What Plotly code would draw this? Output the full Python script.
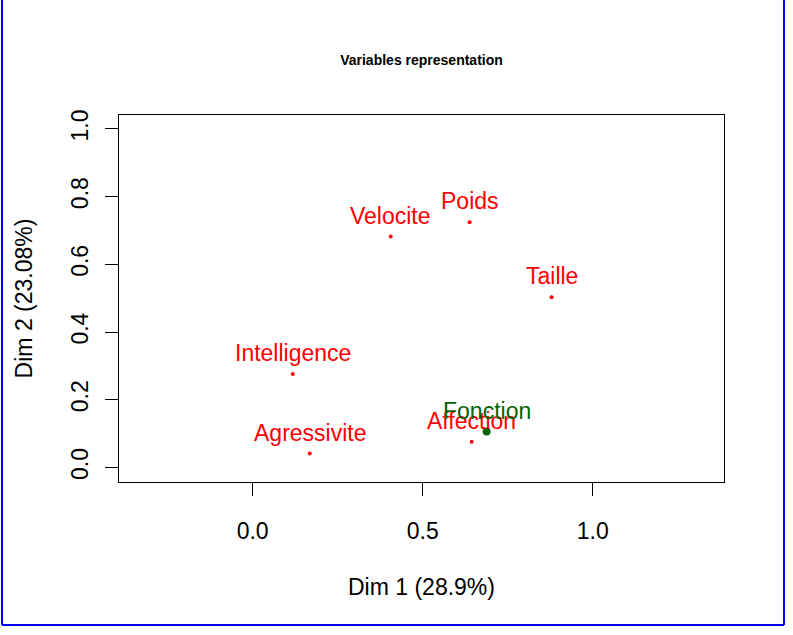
import plotly.graph_objects as go

# Data
active_names = ["Velocite", "Poids", "Taille", "Intelligence", "Agressivite", "Affection"]
active_dim1 = [0.406, 0.638, 0.879, 0.118, 0.168, 0.644]
active_dim2 = [0.682, 0.724, 0.503, 0.276, 0.041, 0.076]

sup_names = ["Fonction"]
sup_dim1 = [0.688]
sup_dim2 = [0.106]

x_ticks = [0.0, 0.5, 1.0]
x_ticklabels = ["0.0", "0.5", "1.0"]
y_ticks = [0.0, 0.2, 0.4, 0.6, 0.8, 1.0]
y_ticklabels = ["0.0", "0.2", "0.4", "0.6", "0.8", "1.0"]

FONT = "Liberation Sans, Arial, sans-serif"
RED = "#FF0000"
GREEN = "#006400"
FS = 23

fig = go.Figure()
fig.add_trace(go.Scatter(
    x=active_dim1, y=active_dim2, mode="markers",
    marker=dict(color=RED, size=4), showlegend=False, hoverinfo="skip"))
fig.add_trace(go.Scatter(
    x=sup_dim1, y=sup_dim2, mode="markers",
    marker=dict(color=GREEN, size=8), showlegend=False, hoverinfo="skip"))

annotations = []
for names, xs, ys, col in [(active_names, active_dim1, active_dim2, RED),
                           (sup_names, sup_dim1, sup_dim2, GREEN)]:
    for n, xv, yv in zip(names, xs, ys):
        annotations.append(dict(x=xv, y=yv, xref="x", yref="y", text=n, showarrow=False,
                                xanchor="center", yanchor="middle", yshift=21,
                                font=dict(family=FONT, size=FS, color=col)))

L, R, T, B = 119, 69, 115, 153
W, H = 793, 635
pw, ph = W - L - R, H - T - B

def px2paper_x(px):
    return (px - L) / pw

def px2paper_y(py):
    return (H - B - py) / ph

axis_common = dict(
    showline=True, mirror=True, linecolor="black", linewidth=1,
    ticks="outside", ticklen=13, tickcolor="black", tickwidth=1,
    showgrid=False, zeroline=False,
    tickfont=dict(family=FONT, size=FS, color="black"),
)

fig.update_layout(
    width=W, height=H, autosize=False,
    margin=dict(l=L, r=R, t=T, b=B),
    paper_bgcolor="white", plot_bgcolor="white",
    font=dict(family=FONT, color="black"),
    title=dict(text="<b>Variables representation</b>", x=(L + pw / 2) / W, xanchor="center",
               y=1 - 60 / H, yanchor="middle",
               font=dict(family=FONT, size=14, color="black")),
    xaxis=dict(range=[-0.393, 1.386], tickvals=x_ticks, ticktext=x_ticklabels,
               title=dict(text="Dim 1 (28.9%)", font=dict(family=FONT, size=FS), standoff=36),
               ticklabelstandoff=15, **axis_common),
    yaxis=dict(range=[-0.043, 1.041], tickvals=y_ticks, ticktext=y_ticklabels, tickangle=-90,
               title=dict(text="Dim 2 (23.08%)", font=dict(family=FONT, size=FS), standoff=27),
               ticklabelstandoff=8, **axis_common),
    annotations=annotations,
    shapes=[
        dict(type="line", xref="paper", yref="paper", x0=px2paper_x(2), x1=px2paper_x(2),
             y0=px2paper_y(-5), y1=px2paper_y(625), line=dict(color="#0000FF", width=2)),
        dict(type="line", xref="paper", yref="paper", x0=px2paper_x(784), x1=px2paper_x(784),
             y0=px2paper_y(-5), y1=px2paper_y(625), line=dict(color="#0000FF", width=2)),
        dict(type="line", xref="paper", yref="paper", x0=px2paper_x(2), x1=px2paper_x(784),
             y0=px2paper_y(625), y1=px2paper_y(625), line=dict(color="#0000FF", width=2)),
    ],
)

fig.write_html("out.html", config={"displayModeBar": False},
               post_script="document.body.style.margin='0';document.body.style.overflow='hidden';")
